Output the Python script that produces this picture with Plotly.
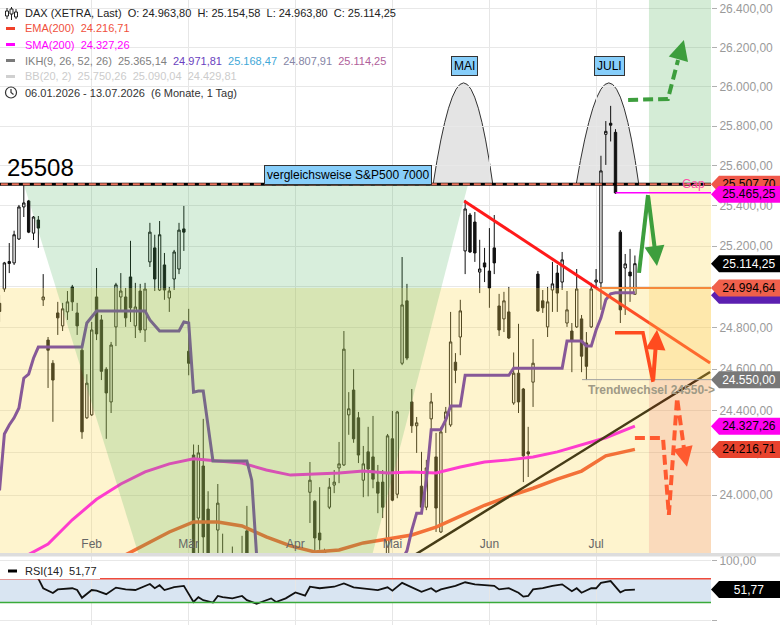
import math
import pandas as pd
import plotly.graph_objects as go

W, H = 780, 625
PLOT_W = 711
PRICE_BOTTOM_PX = 553
RSI_TOP_PX = 556
FONT = "Liberation Sans, Arial, sans-serif"

# ---------------- trading calendar ----------------
holidays = ["2026-04-03", "2026-04-06", "2026-05-01"]
trade_days = pd.bdate_range("2026-01-06", "2026-07-31", freq="C", holidays=holidays)
month_labels = {2: "Feb", 3: "Mär", 4: "Apr", 5: "Mai", 6: "Jun", 7: "Jul"}

# ---------------- OHLC (06.01.2026 - 13.07.2026) ----------------
opens = [24920, 24990, 25115, 25118, 25236, 25395, 25425, 25265, 25330, 24937,
         24741, 24629, 24873, 24810, 24878, 25000, 24873, 24692, 24367, 24381,
         24951, 24839, 24600, 24443, 24805, 24951, 24951, 25049, 24810, 24980,
         24790, 25123, 25192, 24985, 25108, 24946, 25039, 25088, 25286, 24687,
         24190, 23893, 24138, 23935, 23620, 23837, 23700, 23500, 23400, 23550,
         23450, 23833, 23500, 23250, 23400, 23300, 23150, 23350, 23200, 23100,
         23300, 23450, 23400, 23550, 24014, 23972, 23823, 23720, 23944, 24048,
         24129, 24143, 24381, 24500, 24367, 24071, 24205, 24181, 24062, 24062,
         23700, 24267, 24005, 24629, 24932, 24443, 24329, 24043, 23944, 24362,
         24181, 23828, 24362, 24333, 24634, 24756, 25177, 25355, 25320, 25073,
         25118, 25078, 25192, 24907, 24844, 24878, 24438, 24581, 24505, 24205,
         24538, 25063, 24932, 24805, 24985, 25068, 25024, 24824, 24785, 24805,
         24844, 24727, 24805, 25024, 25020, 25759, 25815, 25769, 25270, 25093,
         25073, 24963.80]
highs = [24960, 25123, 25216, 25277, 25405, 25508, 25430, 25350, 25350, 25063,
         24756, 24644, 24927, 24922, 24980, 25010, 24922, 24707, 24576, 24829,
         25093, 24863, 24610, 24732, 25020, 25068, 24995, 25227, 25020, 25015,
         25020, 25316, 25257, 25325, 25167, 25000, 25182, 25316, 25400, 24893,
         24240, 24238, 24362, 24019, 23700, 24053, 23820, 23650, 23760, 23680,
         23810, 23950, 23600, 23480, 23520, 23380, 23450, 23420, 23280, 23380,
         23560, 23520, 23650, 23700, 24157, 23977, 24038, 23750, 24081, 24119,
         24252, 24785, 24490, 24600, 24395, 24233, 24324, 24376, 24143, 24119,
         24290, 24400, 24400, 25147, 25015, 24505, 24371, 24205, 24167, 24486,
         24295, 24324, 24419, 24878, 24678, 24937, 25430, 25365, 25370, 25232,
         25192, 25290, 25355, 24966, 24976, 25000, 24681, 24820, 24510, 24324,
         24746, 25078, 24985, 25000, 25123, 25108, 25172, 24980, 24824, 25088,
         24863, 24780, 25020, 25088, 25651, 25826, 25903, 25785, 25280, 25162,
         25187, 25154.58]
lows = [24830, 24976, 25068, 25108, 25231, 25345, 25265, 25231, 25192, 24907,
        24510, 24348, 24766, 24785, 24839, 24883, 24766, 24267, 24362, 24376,
        24741, 24548, 24267, 24390, 24712, 24888, 24805, 24829, 24751, 24776,
        24732, 25098, 24980, 24980, 24937, 24878, 24985, 25063, 25177, 24571,
        23500, 23700, 23700, 23500, 23450, 23690, 23450, 23300, 23250, 23350,
        23300, 23400, 23150, 23100, 23180, 23020, 23080, 23120, 22950, 23050,
        23250, 23280, 23350, 23480, 23870, 23700, 23745, 23600, 23935, 24010,
        24057, 24138, 24286, 24248, 24152, 23991, 23995, 24033, 23916, 23893,
        23650, 23972, 23986, 24620, 24644, 24295, 24200, 23916, 23930, 24276,
        23828, 23823, 24295, 24324, 24533, 24668, 25063, 25167, 25123, 24970,
        25024, 24898, 25063, 24761, 24780, 24746, 24429, 24390, 24062, 24086,
        24419, 24878, 24873, 24756, 24878, 24878, 24985, 24805, 24586, 24800,
        24586, 24548, 24800, 24995, 24888, 25605, 25723, 25460, 24824, 24863,
        24927, 24963.80]
closes = [24880, 25118, 25125, 25257, 25395, 25415, 25270, 25345, 25290, 24951,
          24692, 24548, 24849, 24893, 24927, 24927, 24810, 24300, 24533, 24790,
          24771, 24590, 24486, 24717, 25010, 24980, 24849, 24898, 24902, 24790,
          24990, 25270, 25039, 25257, 24985, 24980, 25172, 25280, 25270, 24629,
          23600, 24200, 23805, 23600, 23550, 23963, 23500, 23400, 23550, 23450,
          23650, 23500, 23250, 23400, 23300, 23150, 23350, 23200, 23100, 23300,
          23450, 23400, 23550, 23650, 24071, 23800, 23791, 23740, 24038, 24062,
          24148, 24697, 24410, 24267, 24190, 24148, 24124, 24076, 24010, 23944,
          24281, 23977, 24395, 24912, 24654, 24329, 24343, 23944, 24129, 24443,
          23940, 24300, 24395, 24732, 24595, 24883, 25385, 25172, 25167, 25088,
          25098, 24995, 25118, 24790, 24932, 24751, 24581, 24443, 24186, 24195,
          24629, 24883, 24898, 24927, 25015, 24970, 25133, 24888, 24741, 24990,
          24663, 24614, 24990, 25034, 25575, 25774, 25805, 25465, 24888, 25113,
          25054, 25114.25]

# Ichimoku Kijun-sen (daily)
kijun = [24023, 24290, 24333, 24367, 24414, 24557, 24576, 24653,
         24707, 24707, 24707, 24707, 24707, 24707, 24707, 24707, 24707, 24707,
         24824, 24854,
         24883, 24883, 24883, 24883, 24883, 24883, 24883, 24883, 24883, 24883, 24883,
         24839, 24810,
         24785, 24785, 24785, 24785, 24785,
         24829, 24824, 24490, 24495, 24495, 24324,
         24162, 24162, 24162, 24162, 24162, 24162, 24162, 24162,
         24071, 23720,
         23500, 23500, 23500, 23500, 23500, 23500, 23500, 23500, 23500, 23500, 23500, 23500, 23500,
         23450, 23450, 23450, 23450, 23450, 23450, 23450, 23450, 23450, 23450, 23450, 23450,
         23600, 23600, 23600, 23600,
         23700, 23740, 23837, 23916, 23916, 24071,
         24310, 24310, 24310, 24357, 24424, 24424, 24424,
         24571, 24571, 24571, 24571, 24571, 24571, 24571, 24571, 24571, 24571,
         24605, 24605, 24605, 24605, 24605, 24605, 24605, 24605, 24605, 24605, 24605,
         24736, 24736, 24736, 24736, 24712, 24712,
         24790, 24849, 24937, 24966,
         24971.81, 24971.81, 24971.81, 24971.81, 24971.81]

sma_idx = [0, 5, 10, 15, 20, 25, 30, 35, 40, 45, 50, 55, 60, 65, 70, 75, 80, 85,
           90, 95, 100, 105, 110, 115, 120, 125, 131]
sma_val = [23650, 23712, 23772, 23885, 23981, 24053, 24110, 24148, 24172, 24162,
           24152, 24119, 24095, 24100, 24105, 24114, 24105, 24110, 24105, 24133,
           24157, 24167, 24181, 24205, 24238, 24272, 24327.26]
ema_idx = [20, 26, 30, 35, 40, 45, 50, 55, 60, 65, 70, 75, 80, 85, 90, 95, 100,
           105, 110, 115, 120, 125, 131]
ema_val = [23651, 23721, 23772, 23828, 23875, 23875, 23856, 23805, 23763, 23735,
           23744, 23777, 23795, 23814, 23851, 23903, 23953, 23995, 24033, 24076,
           24114, 24186, 24216.71]

rsi_idx = [0, 2, 5, 8, 9, 11, 12, 15, 16, 17, 19, 20, 22, 24, 26, 28, 31, 32, 33, 34,
           36, 38, 40, 41, 42, 44, 45, 46, 48, 50, 51, 53, 54, 56, 57, 59, 61, 62, 63, 64,
           66, 69, 71, 73, 78, 80, 81, 83, 85, 87, 89, 90, 91, 94, 96, 98, 102, 103, 105, 107,
           108, 109, 110, 112, 114, 116, 118, 119, 120, 122, 123, 124, 126, 128, 129, 131]
rsi_val = [73, 81, 79, 70, 54, 46, 52, 54, 51, 38, 51, 50, 44, 55, 52, 51, 61, 54, 59, 51,
           56, 58, 31, 39, 34, 30, 41, 39, 37, 41, 34, 28, 31, 37, 31, 37, 47, 44, 41.5, 56.5,
           54, 56.5, 62, 55.5, 51, 55.5, 50, 63, 55.5, 48, 54, 48, 52, 58, 64, 60.5, 58, 52, 54, 46.5,
           40, 41, 52, 54, 58, 60.5, 49, 54, 46.5, 54, 54, 63, 66, 47, 51, 51.77]

price_ticks = [23800, 24000, 24200, 24400, 24600, 24800, 25000, 25200, 25400,
               25600, 25800, 26000, 26200, 26400]

# drawings (trading-day index, price)
resistance = 25508
resistance_dash = 25507.70
gap_level = 25465.25
orange_level = 24994.64
trend_change = 24550.00
down_trend_x, down_trend_y = [95.8, 146.5], [25425, 24630]
up_trend_x, up_trend_y = [84.6, 146.5], [23707, 24587]
funnel_x = [5.0, 96.6, 76.6, 29.0]
future_start = 133.9
dome_mai = (89.4, 95.8, 101.7)
dome_juli = (118.9, 125.9, 131.8)
dome_peak = 26020
green_dash_x, green_dash_y = [129.6, 137.8, 139.9], [25933, 25938, 26137]
green_up_x, green_up_y = [131.85, 133.7], [25069, 25455]
green_tip = (135.55, 25103)
orange_x, orange_y = [126.9, 132.67, 134.73], [24776, 24776, 24539]
orange_tip = (135.56, 24791)
odash_x = [131.0, 136.8, 138.0, 139.7, 141.3]
odash_y = [24271, 24271, 23908, 24462, 24190]
odash_tip = (141.74, 24134)
green_dash_tip = (141.1, 26240)

# ---------------- helpers ----------------
LOG_LO, LOG_HI = math.log10(23730), math.log10(26446)
P0 = (H - PRICE_BOTTOM_PX) / H
R1 = (H - RSI_TOP_PX) / H
RSI_LO, RSI_HI = -7.5, 107.9


def yp(v):
    return P0 + (math.log10(v) - LOG_LO) / (LOG_HI - LOG_LO) * (1 - P0)


def yr(v):
    return (v - RSI_LO) / (RSI_HI - RSI_LO) * R1


def pxx(px):
    return px / PLOT_W


def pxy(py):
    return 1 - py / H


n = len(closes)
idx = list(range(n))
tick_idx, tick_txt = [], []
for m, lab in month_labels.items():
    for i, d in enumerate(trade_days):
        if d.month == m:
            tick_idx.append(i)
            tick_txt.append(lab)
            break

fig = go.Figure()

fig.add_trace(go.Candlestick(
    x=idx, open=opens, high=highs, low=lows, close=closes,
    increasing=dict(line=dict(color="#111111", width=1), fillcolor="white"),
    decreasing=dict(line=dict(color="#111111", width=1), fillcolor="#111111"),
    whiskerwidth=0, hoverinfo="skip", xaxis="x", yaxis="y"))

def line(x, y, color, width, dash=None, xa="x", ya="y"):
    fig.add_trace(go.Scatter(x=x, y=y, mode="lines", hoverinfo="skip",
                             line=dict(color=color, width=width, dash=dash),
                             xaxis=xa, yaxis=ya))

def poly(x, y, color):
    fig.add_trace(go.Scatter(x=x, y=y, mode="lines", fill="toself", fillcolor=color,
                             line=dict(width=0), hoverinfo="skip", xaxis="x", yaxis="y"))

line(ema_idx, ema_val, "#f04a30", 3.5)
line(sma_idx, sma_val, "#ff00ff", 3)
line(idx, kijun, "#5a28b4", 3)
line(down_trend_x, down_trend_y, "#ff1a1a", 3)
line(up_trend_x, up_trend_y, "#000000", 2.5)

# overlay zones
poly([-2, future_start, future_start, -2], [23000, 23000, orange_level, orange_level], "rgba(250,215,80,0.28)")
poly(funnel_x, [resistance, resistance, 23700, 23700], "rgba(60,170,80,0.2)")
poly([future_start, 150, 150, future_start], [resistance, resistance, 27000, 27000], "rgba(60,170,70,0.22)")
poly([future_start, 150, 150, future_start], [orange_level, orange_level, resistance, resistance], "rgba(250,215,80,0.28)")
poly([future_start, 150, 150, future_start], [trend_change, trend_change, orange_level, orange_level], "rgba(252,205,70,0.45)")
poly([future_start, 150, 150, future_start], [23000, 23000, trend_change, trend_change], "rgba(240,150,60,0.35)")

line([123.8, 150], [orange_level, orange_level], "#f5893c", 2)
line([127, 150], [gap_level, gap_level], "#ff00ff", 1.5)
line([120.1, 150], [trend_change, trend_change], "#a0a0a0", 1)
line([-2, 150], [resistance, resistance], "#000000", 3)
line([-2, 150], [resistance_dash, resistance_dash], "#e8705a", 2, dash="7px,4px")

line(green_dash_x, green_dash_y, "#3d9e3d", 4, dash="10px,5px")
line(green_up_x, green_up_y, "#3d9e3d", 4)
line(orange_x, orange_y, "#ff4b1f", 3.5)
line(odash_x, odash_y, "#ff5a30", 4, dash="10px,5px")

# RSI
over_x = [x for x, v in zip(rsi_idx, rsi_val) if x <= 8]
over_y = [v for x, v in zip(rsi_idx, rsi_val) if x <= 8]
line(over_x, [70] * len(over_x), "rgba(0,0,0,0)", 0, xa="x2", ya="y2")
fig.add_trace(go.Scatter(x=over_x, y=over_y, mode="lines", fill="tonexty",
                         fillcolor="rgba(255,130,130,0.35)", line=dict(width=0),
                         hoverinfo="skip", xaxis="x2", yaxis="y2"))
line(rsi_idx, rsi_val, "#111111", 1.8, xa="x2", ya="y2")

shapes = []
# RSI band and levels
shapes.append(dict(type="rect", xref="paper", yref="y2", x0=0, x1=1, y0=30, y1=70,
                   fillcolor="#d9e5f2", line=dict(width=0), layer="below"))
shapes.append(dict(type="line", xref="paper", yref="y2", x0=0, x1=1, y0=70, y1=70,
                   line=dict(color="#f04a3a", width=1.5), layer="above"))
shapes.append(dict(type="line", xref="paper", yref="y2", x0=0, x1=1, y0=30, y1=30,
                   line=dict(color="#3aaa3a", width=1.5), layer="above"))

# domes
for (a, c, b) in (dome_mai, dome_juli):
    yb = yp(resistance)
    yc = yb + 2 * (yp(dome_peak) - yb)
    shapes.append(dict(type="path", xref="x", yref="paper",
                       path=f"M{a},{yb} Q{c},{yc} {b},{yb} Z",
                       fillcolor="#e4e4e4", line=dict(color="#333333", width=1), layer="between"))

# separator between panels
shapes.append(dict(type="rect", xref="paper", yref="paper", x0=0, x1=W / PLOT_W,
                   y0=pxy(556.5), y1=pxy(553), fillcolor="#dddddd", line=dict(width=0), layer="above"))
# RSI legend box
shapes.append(dict(type="rect", xref="paper", yref="paper", x0=0, x1=pxx(100),
                   y0=pxy(579), y1=pxy(562), fillcolor="white", line=dict(width=0), layer="above"))
shapes.append(dict(type="line", xref="paper", yref="paper", x0=pxx(8), x1=pxx(17),
                   y0=pxy(571), y1=pxy(571), line=dict(color="black", width=3), layer="above"))

# legend icons
for lx, ly, col in ((6, 28.5, "#f0402a"), (6, 44.5, "#ff00ff"), (6, 60.5, "#7a7a7a"), (6, 76.5, "#d0d0d0")):
    shapes.append(dict(type="line", xref="paper", yref="paper", x0=pxx(lx), x1=pxx(lx + 9),
                       y0=pxy(ly), y1=pxy(ly), line=dict(color=col, width=3), layer="above"))
for cx, w0, w1, b0, b1 in ((7, 8, 19, 11, 16), (11.5, 7, 20, 9, 14), (16, 9, 19, 12, 17)):
    shapes.append(dict(type="line", xref="paper", yref="paper", x0=pxx(cx), x1=pxx(cx),
                       y0=pxy(w1), y1=pxy(w0), line=dict(color="#222", width=1), layer="above"))
    shapes.append(dict(type="rect", xref="paper", yref="paper", x0=pxx(cx - 1.5), x1=pxx(cx + 1.5),
                       y0=pxy(b1), y1=pxy(b0), fillcolor="white", line=dict(color="#222", width=1), layer="above"))
shapes.append(dict(type="circle", xref="paper", yref="paper", x0=pxx(5.5), x1=pxx(16.5),
                   y0=pxy(98), y1=pxy(87), line=dict(color="#333", width=1.2), layer="above"))
shapes.append(dict(type="path", xref="paper", yref="paper",
                   path=f"M{pxx(11)},{pxy(89)} L{pxx(11)},{pxy(92.5)} L{pxx(13.5)},{pxy(94.5)}",
                   line=dict(color="#333", width=1.2), layer="above"))

annotations = []

# price tags on the right
def tag(ypos, text, bg, fg):
    shapes.append(dict(type="path", xref="paper", yref="paper", xsizemode="pixel", ysizemode="pixel",
                       xanchor=1.0, yanchor=ypos, path="M0,0 L8,8.5 L69,8.5 L69,-8.5 L8,-8.5 Z",
                       fillcolor=bg, line=dict(width=0), layer="above"))
    if text:
        annotations.append(dict(xref="paper", yref="paper", x=1.0, y=ypos, xanchor="left", yanchor="middle",
                                xshift=8, text=text, showarrow=False, width=60, height=16, borderpad=0,
                                borderwidth=0, bgcolor=bg, align="center",
                                font=dict(size=12, color=fg, family=FONT)))

# text annotations
annotations.append(dict(xref="x", yref="paper", x=120.9, y=pxy(390), xanchor="left", yanchor="middle",
                        text="<b>Trendwechsel 24550-></b>", showarrow=False,
                        font=dict(size=12, color="#a09a86", family=FONT)))

tag(yp(resistance_dash), "25.507,70", "#f0584a", "black")
tag(yp(gap_level) - 1.5 / H, "25.465,25", "#ff00e6", "black")
tag(yp(closes[-1]), "25.114,25", "#000000", "white")
tag(yp(kijun[-1]) - 2.5 / H, "", "#5b1fb0", "white")   # Kijun tag, hidden behind the next one
tag(yp(orange_level), "24.994,64", "#f0604c", "black")
tag(yp(trend_change), "24.550,00", "#787878", "white")
tag(yp(sma_val[-1]), "24.327,26", "#ff00f0", "black")
tag(yp(ema_val[-1]), "24.216,71", "#e8432e", "black")
tag(yr(rsi_val[-1]), "51,77", "#000000", "white")

annotations.append(dict(xref="paper", yref="paper", x=pxx(5), y=pxy(168), xanchor="left", yanchor="middle",
                        text="25508", showarrow=False, font=dict(size=24, color="black", family=FONT)))
annotations.append(dict(xref="x", yref="paper", x=71.8, y=pxy(175), xanchor="center", yanchor="middle",
                        text="vergleichsweise S&P500 7000", showarrow=False, bgcolor="#87cefa",
                        bordercolor="#333", borderwidth=1, borderpad=2,
                        font=dict(size=12, color="black", family=FONT)))
for bx, lab in ((95.9, "MAI"), (125.7, "JULI")):
    annotations.append(dict(xref="x", yref="paper", x=bx, y=pxy(66), xanchor="center", yanchor="middle",
                            text=lab, showarrow=False, bgcolor="#87cefa", bordercolor="#333",
                            borderwidth=1, borderpad=2, font=dict(size=12, color="black", family=FONT)))
annotations.append(dict(xref="paper", yref="paper", x=pxx(693), y=pxy(184), xanchor="center", yanchor="middle",
                        text="Gap", showarrow=False, font=dict(size=12, color="#ff4fa6", family=FONT)))

# arrow heads
for (tx, ty), ax, ay, col in ((green_tip, -9, -71, "#3d9e3d"), (orange_tip, -4, 52, "#ff4b1f"),
                              (odash_tip, -3, -14, "#ff5a30"), (green_dash_tip, -4, 14, "#3d9e3d")):
    annotations.append(dict(xref="x", yref="paper", x=tx, y=yp(ty), ax=ax, ay=ay, text="",
                            showarrow=True, arrowhead=2, arrowsize=1, arrowwidth=4, arrowcolor=col,
                            standoff=0, startstandoff=0))

# legend texts
NB = "\u00a0"
legend_lines = [
    (13, f"<span style='color:#222'>DAX (XETRA, Last){NB} O: 24.963,80{NB} H: 25.154,58{NB} L: 24.963,80{NB} C: 25.114,25</span>"),
    (28.5, f"<span style='color:#f0503c'>EMA(200){NB} 24.216,71</span>"),
    (44.5, f"<span style='color:#ff00ff'>SMA(200){NB} 24.327,26</span>"),
    (60.5, f"<span style='color:#808080'>IKH(9, 26, 52, 26){NB} 25.365,14</span>{NB} "
           f"<span style='color:#6a3fc0'>24.971,81</span>{NB} <span style='color:#3fa8d8'>25.168,47</span>{NB} "
           f"<span style='color:#8585a5'>24.807,91</span>{NB} <span style='color:#b0609a'>25.114,25</span>"),
    (76.5, f"<span style='color:#cccccc'>BB(20, 2){NB} 25.750,26{NB} 25.090,04{NB} 24.429,81</span>"),
    (92.5, f"<span style='color:#333'>06.01.2026 - 13.07.2026{NB} (6 Monate, 1 Tag)</span>"),
]
for ly, txt in legend_lines:
    annotations.append(dict(xref="paper", yref="paper", x=pxx(23), y=pxy(ly), xanchor="left", yanchor="middle",
                            text=txt, showarrow=False, font=dict(size=11, family=FONT)))
annotations.append(dict(xref="paper", yref="paper", x=pxx(23), y=pxy(571), xanchor="left", yanchor="middle",
                        text=f"RSI(14){NB} 51,77", showarrow=False, font=dict(size=11, color="#222", family=FONT)))

fig.update_layout(
    width=W, height=H, margin=dict(l=0, r=W - PLOT_W, t=0, b=0, autoexpand=False),
    paper_bgcolor="white", plot_bgcolor="white", showlegend=False,
    separators=",.", font=dict(family=FONT), hovermode=False,
    xaxis=dict(domain=[0, 1], range=[0.093, 0.093 + PLOT_W / 4.85], anchor="y", automargin=False,
               tickvals=tick_idx, ticktext=tick_txt, ticklabelposition="inside", ticks="",
               showgrid=True, gridcolor="#e6e6e6", zeroline=False, showline=False,
               tickfont=dict(size=12, color="#666666"), rangeslider=dict(visible=False)),
    yaxis=dict(domain=[P0, 1], type="log", range=[LOG_LO, LOG_HI], side="right", anchor="x",
               automargin=False,
               tickvals=price_ticks, tickformat=",.2f", ticks="outside", ticklen=5,
               tickcolor="#b0b0b0", tickfont=dict(size=12, color="#9a9a9a"),
               showgrid=True, gridcolor="#e8e8e8", zeroline=False, showline=False),
    xaxis2=dict(domain=[0, 1], matches="x", anchor="y2", showticklabels=False, ticks="",
                automargin=False,
                tickvals=tick_idx, showgrid=True, gridcolor="#e6e6e6", zeroline=False),
    yaxis2=dict(domain=[0, R1], range=[RSI_LO, RSI_HI], side="right", anchor="x2",
                automargin=False,
                tickvals=[0, 100], tickformat=",.2f", ticks="outside", ticklen=5,
                tickcolor="#b0b0b0", tickfont=dict(size=12, color="#9a9a9a"),
                showgrid=True, gridcolor="#e8e8e8", zeroline=False),
    shapes=shapes, annotations=annotations,
)

fig.write_html("out.html", config={"displayModeBar": False, "staticPlot": True},
               post_script="document.body.style.margin='0px';document.body.style.overflow='hidden';")
